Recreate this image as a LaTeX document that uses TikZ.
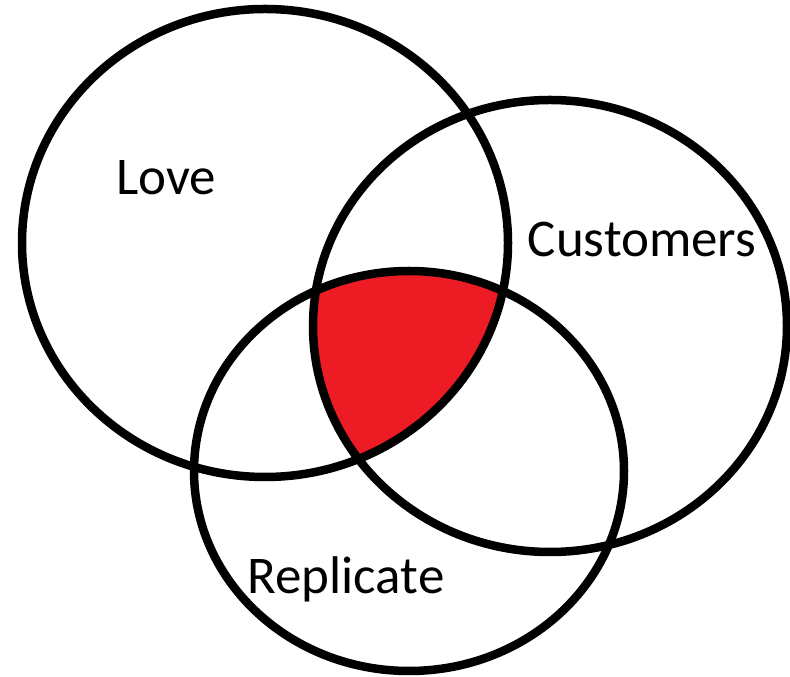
\documentclass[tikz,border=0pt]{standalone}
\usepackage{fontspec}
\setmainfont{Carlito}
\definecolor{vennred}{RGB}{237,28,36}
\tikzset{
    ring/.style={line width=8.5pt, black},
    setlabel/.style={anchor=base, inner sep=0pt, font=\fontsize{53}{62}\selectfont}
}
\begin{document}
\begin{tikzpicture}[x=1pt, y=1pt]
            \useasboundingbox (0,0) rectangle (790,677);

            % 填充三个集合的交集
            \begin{scope}
                \clip (265,434) ellipse [x radius=243, y radius=234];
                \clip (550,351) ellipse [x radius=237, y radius=226];
                \fill[vennred] (409,206) ellipse [x radius=215, y radius=200];
            \end{scope}

            % 画三个椭圆
            \draw[ring] (265,434) ellipse [x radius=243, y radius=234]; % Love
            \draw[ring] (550,351) ellipse [x radius=237, y radius=226]; % Customers
            \draw[ring] (409,206) ellipse [x radius=215, y radius=200]; % Replicate

            % 标记集合名称
            \node[setlabel] (love) at (166, 482) {Love};
            \node[setlabel] (customers) at (642, 420) {Customers};
            \node[setlabel] (replicate) at (346, 83) {Replicate};
        \end{tikzpicture}
\end{document}
